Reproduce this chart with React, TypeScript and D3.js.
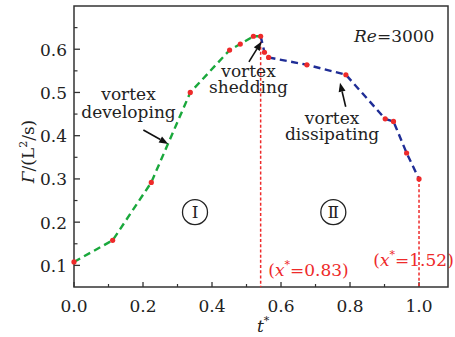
import React from "react";
import * as d3 from "d3";

const greenT = [0, 0.112, 0.224, 0.337, 0.451, 0.482, 0.52, 0.541];
const greenV = [0.108, 0.158, 0.292, 0.5, 0.598, 0.612, 0.63, 0.63];
const blueT = [0.541, 0.552, 0.564, 0.675, 0.788, 0.902, 0.926, 0.964, 1.0];
const blueV = [0.63, 0.593, 0.581, 0.564, 0.541, 0.439, 0.433, 0.36, 0.3];
const xMajor = [0, 0.2, 0.4, 0.6, 0.8, 1.0];
const xMinor = [0.1, 0.3, 0.5, 0.7, 0.9];
const yMajor = [0.1, 0.2, 0.3, 0.4, 0.5, 0.6];
const yMinor = [0.15, 0.25, 0.35, 0.45, 0.55, 0.65];
const markers = [
  { t: 0.541, v: 0.63, label: "0.83", lt: 0.563, lv: 0.0743 },
  { t: 1.0, v: 0.3, label: "1.52", lt: 0.8675, lv: 0.0975 },
];

const W = 455, H = 337;
const FONT = "DejaVu Serif";
const FS = 17;
const LS = 0;

export default function App() {
  const x = d3.scaleLinear().domain([0, 1.084]).range([74, 448]);
  const y = d3.scaleLinear().domain([0.05, 0.7]).range([287, 6]);
  const line = d3.line<[number, number]>().x((d) => x(d[0])).y((d) => y(d[1]));
  const green = greenT.map((t, i) => [t, greenV[i]] as [number, number]);
  const blue = blueT.map((t, i) => [t, blueV[i]] as [number, number]);
  const y0 = y.domain()[0];
  const axisCol = "#333";
  const red = "#ee2a2a";

  const arrow = (t1: number, v1: number, t2: number, v2: number, key: string) => {
    const x1 = x(t1), y1 = y(v1), x2 = x(t2), y2 = y(v2);
    const a = Math.atan2(y2 - y1, x2 - x1);
    const L = 9, Wd = 3.5;
    const bx = x2 - L * Math.cos(a), by = y2 - L * Math.sin(a);
    const p1 = [bx + Wd * Math.sin(a), by - Wd * Math.cos(a)];
    const p2 = [bx - Wd * Math.sin(a), by + Wd * Math.cos(a)];
    return (
      <g key={key}>
        <line x1={x1} y1={y1} x2={bx} y2={by} stroke="#111" strokeWidth={1.6} />
        <polygon points={`${x2},${y2} ${p1[0]},${p1[1]} ${p2[0]},${p2[1]}`} fill="#111" />
      </g>
    );
  };

  const txt = { style: { fontFamily: FONT, fontSize: FS, letterSpacing: LS }, fill: "#222" };

  return (
    <svg width={W} height={H} style={{ position: "absolute", left: 0, top: 0, background: "#fff" }}>
      <rect x={x(0)} y={y(0.7)} width={x(1.084) - x(0)} height={y(y0) - y(0.7)} fill="none" stroke={axisCol} strokeWidth={1.5} />
      {xMajor.map((t) => (
        <g key={"xm" + t}>
          <line x1={x(t)} x2={x(t)} y1={y(y0)} y2={y(y0) - 5} stroke={axisCol} strokeWidth={1.3} />
          <text x={x(t)} y={311.5} textAnchor="middle" {...txt}>{t.toFixed(1)}</text>
        </g>
      ))}
      {xMinor.map((t) => (
        <line key={"xn" + t} x1={x(t)} x2={x(t)} y1={y(y0)} y2={y(y0) - 3} stroke={axisCol} strokeWidth={1.2} />
      ))}
      {yMajor.map((v) => (
        <g key={"ym" + v}>
          <line x1={x(0)} x2={x(0) + 6} y1={y(v)} y2={y(v)} stroke={axisCol} strokeWidth={1.3} />
          <text x={67} y={y(v) + 6.5} textAnchor="end" {...txt}>{v.toFixed(1)}</text>
        </g>
      ))}
      {yMinor.map((v) => (
        <line key={"yn" + v} x1={x(0)} x2={x(0) + 3.5} y1={y(v)} y2={y(v)} stroke={axisCol} strokeWidth={1.2} />
      ))}

      <text transform="translate(34,151.5) rotate(-90)" textAnchor="middle" {...txt}>
        <tspan fontStyle="italic">Γ</tspan>/(L<tspan fontSize={11} dy={-7}>2</tspan><tspan dy={7}>/s)</tspan>
      </text>
      <text x={257} y={332} {...txt}>
        <tspan fontStyle="italic">t</tspan><tspan fontSize={11} dy={-8}>*</tspan>
      </text>

      {markers.map((m) => (
        <g key={"mk" + m.label}>
          <line x1={x(m.t)} x2={x(m.t)} y1={y(m.v)} y2={y(y0)} stroke={red} strokeWidth={1.5} strokeDasharray="3,2.2" />
          <text x={x(m.lt)} y={y(m.lv)} {...txt} fill={red}>
            (<tspan fontStyle="italic">x</tspan><tspan fontSize={11} dy={-8}>*</tspan><tspan dy={8}>={m.label})</tspan>
          </text>
        </g>
      ))}

      <path d={line(green) || ""} fill="none" stroke="#1aa83c" strokeWidth={2.4} strokeDasharray="7,4.5" />
      <path d={line(blue) || ""} fill="none" stroke="#1f2d96" strokeWidth={2.4} strokeDasharray="7,4.5" />
      {[...green, ...blue.slice(1)].map((d, i) => (
        <circle key={"p" + i} cx={x(d[0])} cy={y(d[1])} r={2.6} fill={red} />
      ))}

      <text x={x(0.158)} y={y(0.4826)} textAnchor="middle" {...txt}>vortex</text>
      <text x={x(0.158)} y={y(0.4418)} textAnchor="middle" {...txt}>developing</text>
      {arrow(0.201, 0.413, 0.273, 0.381, "a1")}
      <text x={x(0.5058)} y={y(0.536)} textAnchor="middle" {...txt}>vortex</text>
      <text x={x(0.5058)} y={y(0.499)} textAnchor="middle" {...txt}>shedding</text>
      {arrow(0.507, 0.5706, 0.5435, 0.618, "a2")}
      <text x={x(0.748)} y={y(0.4266)} textAnchor="middle" {...txt}>vortex</text>
      <text x={x(0.748)} y={y(0.3896)} textAnchor="middle" {...txt}>dissipating</text>
      {arrow(0.7875, 0.4669, 0.771, 0.5224, "a3")}

      <text x={x(0.8116)} y={y(0.6167)} {...txt}>
        <tspan fontStyle="italic">Re</tspan>=3000
      </text>

      {[{ t: 0.3507, s: "Ⅰ" }, { t: 0.7516, s: "Ⅱ" }].map((r) => (
        <g key={r.s}>
          <circle cx={x(r.t)} cy={y(0.2231)} r={12.5} fill="none" stroke="#222" strokeWidth={1.3} />
          <text x={x(r.t)} y={y(0.2231) + 6} textAnchor="middle" fill="#222" style={{ fontFamily: FONT, fontSize: 17 }}>{r.s}</text>
        </g>
      ))}
    </svg>
  );
}
